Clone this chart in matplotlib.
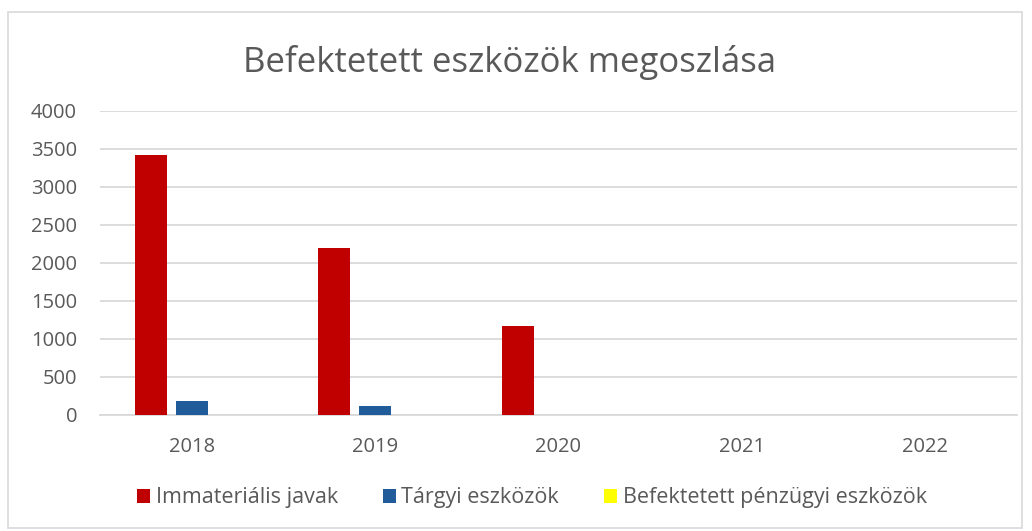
import numpy as np
import matplotlib.pyplot as plt
from matplotlib.patches import Rectangle

# data
years = ["2018", "2019", "2020", "2021", "2022"]
immaterialis = [3420, 2200, 1170, 0, 0]
targyi = [190, 120, 0, 0, 0]
penzugyi = [0, 0, 0, 0, 0]

series_names = ["Immateriális javak", "Tárgyi eszközök", "Befektetett pénzügyi eszközök"]
colors = ["#C00000", "#1F5C99", "#FFFF00"]

plt.rcParams['font.family'] = ['Open Sans', 'DejaVu Sans']
text_color = "#595959"

fig = plt.figure(figsize=(10.32, 5.31), dpi=100)
ax = fig.add_axes([100 / 1032, 1 - 415 / 531, 917 / 1032, 304 / 531])

x = np.arange(len(years))
width = 0.174
offset = 0.222
for i, (vals, name, col) in enumerate(zip([immaterialis, targyi, penzugyi], series_names, colors)):
    ax.bar(x + (i - 1) * offset, vals, width, color=col, label=name, zorder=3)

ax.set_xlim(-0.5, len(years) - 0.5)
ax.set_ylim(0, 4000)
ax.set_yticks(np.arange(0, 4001, 500))
ax.set_xticks(x)
ax.set_xticklabels(years)
ax.yaxis.grid(True, color="#D9D9D9", linewidth=1.3, zorder=0)
ax.tick_params(axis='both', length=0, labelsize=14.5, labelcolor=text_color)
ax.tick_params(axis='y', pad=16.5)
ax.tick_params(axis='x', pad=16)
for s in ["top", "right", "left"]:
    ax.spines[s].set_visible(False)
ax.spines["bottom"].set_color("#D9D9D9")
ax.spines["bottom"].set_linewidth(1.3)

fig.text(0.494, 1 - 62 / 531, "Befektetett eszközök megoszlása", ha="center", va="center",
         fontsize=25, color=text_color)

leg = fig.legend(loc="center", bbox_to_anchor=(0.5155, 1 - 498 / 531), ncol=3, frameon=False,
                 fontsize=15.5, handlelength=0.6, handleheight=0.6, handletextpad=0.25,
                 columnspacing=2.1)
for t in leg.get_texts():
    t.set_color(text_color)

# outer chart border
fig.patches.append(Rectangle((8 / 1032, 3 / 531), 1014 / 1032, 516 / 531, transform=fig.transFigure,
                             fill=False, edgecolor="#D9D9D9", linewidth=1.2))

fig.savefig("out.png", dpi=100)
